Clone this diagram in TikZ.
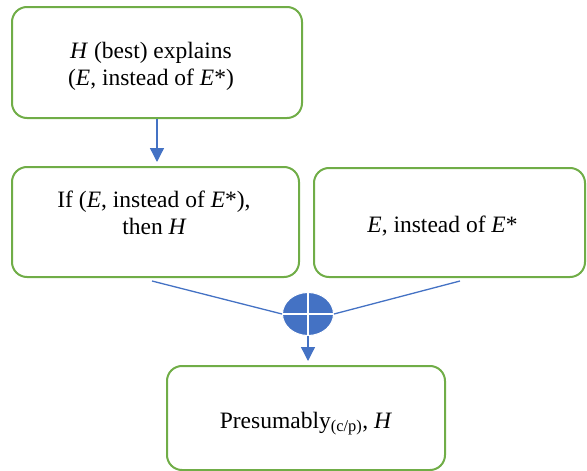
\documentclass[tikz,border=0pt]{standalone}
\usepackage{fontspec}
\setmainfont{Liberation Serif}
\usetikzlibrary{arrows.meta,shapes.geometric}
\definecolor{boxgreen}{RGB}{112,173,71}
\definecolor{linkblue}{RGB}{68,114,196}
\begin{document}
\begin{tikzpicture}[x=1pt,y=-1pt,
  box/.style={draw=boxgreen,line width=2pt,rounded corners=15pt,rectangle,inner sep=0pt},
  txt/.style={anchor=base,inner sep=0pt,font=\fontsize{23.5}{27}\selectfont},
  link/.style={draw=linkblue,line width=1.3pt},
  arr/.style={link,-{Triangle[width=14pt,length=14pt]}}]
\useasboundingbox (0,0) rectangle (587,471);
% boxes
\node[box,minimum width=290pt,minimum height=111pt] (top) at (157,62.5) {};
\node[box,minimum width=287pt,minimum height=110pt] (left) at (155.5,222) {};
\node[box,minimum width=271pt,minimum height=109pt] (right) at (449.5,222.5) {};
\node[box,minimum width=278pt,minimum height=104pt] (bottom) at (306,418) {};
% texts
\node[txt] (t1) at (151,58) {\textit{H} (best) explains};
\node[txt] (t2) at (151,85) {(\textit{E}, instead of \textit{E}*)};
\node[txt] (l1) at (154,207) {If (\textit{E}, instead of \textit{E}*),};
\node[txt] (l2) at (154.5,234) {then \textit{H}};
\node[txt] (r1) at (442.5,232) {\textit{E}, instead of \textit{E}*};
\node[txt] (b1) at (306,428) {Presumably\textsubscript{(c/p)}, \textit{H}};
% junction
\node[ellipse,fill=linkblue,draw=white,line width=1pt,minimum width=51pt,minimum height=43pt,inner sep=0pt] (plus) at (308,314) {};
\draw[white,line width=2pt] (plus.north) -- (plus.south);
\draw[white,line width=2pt] (plus.west) -- (plus.east);
% connectors
\coordinate (ls) at (152,281);
\coordinate (rs) at (460,281);
\draw[arr,shorten >=4pt] (top.south) -- (top.south |- left.north);
\draw[link] (ls) -- (plus.west);
\draw[link] (rs) -- (plus.east);
\draw[arr,shorten >=4pt] (plus.south) -- (plus.south |- bottom.north);
\end{tikzpicture}
\end{document}
